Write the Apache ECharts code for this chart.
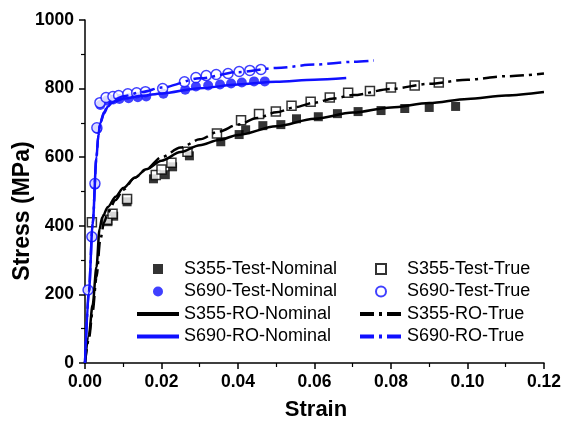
<!DOCTYPE html>
<html>
<head>
<meta charset="utf-8">
<script src="https://cdn.jsdelivr.net/npm/echarts@6/dist/echarts.min.js"></script>
<style>
  html, body { margin: 0; padding: 0; background: #fff; }
  #chart { width: 564px; height: 425px; }
</style>
</head>
<body>
<div id="chart"></div>
<script>
// S355 test points
var s355NomX = [0.006, 0.0075, 0.011, 0.0179, 0.021, 0.0229, 0.0273, 0.0355, 0.0403, 0.042, 0.0465, 0.0512, 0.0553, 0.061, 0.066, 0.0714, 0.0774, 0.0836, 0.090, 0.0969];
var s355NomY = [412, 428, 470, 537, 549, 572, 604, 645, 666, 680, 692, 695, 712, 718, 727, 733, 736, 742, 745, 748];
var s355TrueX = [0.0018, 0.0058, 0.0072, 0.011, 0.0185, 0.020, 0.0226, 0.0268, 0.0345, 0.0408, 0.0455, 0.0499, 0.054, 0.059, 0.064, 0.0688, 0.0745, 0.080, 0.0862, 0.0925];
var s355TrueY = [410, 418, 435, 478, 548, 564, 584, 616, 669, 708, 726, 733, 750, 762, 774, 788, 793, 803, 809, 818];

// S690 test points
var s690NomX = [0.0008, 0.0018, 0.0026, 0.0032, 0.004, 0.0056, 0.0074, 0.009, 0.0114, 0.0138, 0.016, 0.0205, 0.0262, 0.029, 0.0322, 0.0353, 0.0382, 0.041, 0.0442, 0.047];
var s690NomY = [213, 367, 520, 682, 752, 765, 768, 770, 772, 775, 777, 785, 797, 806, 809, 812, 815, 818, 821, 821];
var s690TrueX = [0.0008, 0.0018, 0.0026, 0.0031, 0.0039, 0.0055, 0.0073, 0.0088, 0.0112, 0.0135, 0.0158, 0.0203, 0.026, 0.029, 0.0317, 0.0343, 0.0374, 0.0403, 0.0431, 0.046];
var s690TrueY = [213, 368, 523, 686, 759, 774, 777, 780, 785, 788, 791, 800, 820, 832, 838, 841, 844, 850, 853, 856];

// Ramberg-Osgood curves
var s355RoNomX = [0, 0.001, 0.002, 0.003, 0.0038, 0.0045, 0.006, 0.008, 0.01, 0.013, 0.016, 0.02, 0.025, 0.03, 0.035, 0.04, 0.05, 0.06, 0.07, 0.08, 0.09, 0.10, 0.11, 0.12];
var s355RoNomY = [0, 80, 170, 280, 390, 425, 455, 485, 510, 540, 565, 590, 615, 635, 650, 665, 690, 712, 730, 745, 758, 770, 780, 790];
var s355RoTrueX = [0, 0.001, 0.002, 0.003, 0.004, 0.005, 0.006, 0.008, 0.01, 0.013, 0.016, 0.02, 0.025, 0.03, 0.035, 0.04, 0.045, 0.05, 0.055, 0.06, 0.065, 0.07, 0.08, 0.09, 0.10, 0.11, 0.12];
var s355RoTrueY = [0, 70, 150, 250, 360, 410, 440, 475, 505, 540, 565, 600, 628, 652, 675, 695, 714, 731, 746, 759, 771, 781, 799, 814, 826, 836, 844];

var s690RoNomX = [0, 0.001, 0.002, 0.003, 0.0035, 0.004, 0.005, 0.006, 0.007, 0.008, 0.01, 0.015, 0.02, 0.03, 0.04, 0.05, 0.06, 0.0683];
var s690RoNomY = [0, 205, 405, 600, 665, 700, 728, 748, 758, 764, 771, 779, 786, 801, 812, 820, 826, 831];
var s690RoTrueX = [0, 0.001, 0.002, 0.003, 0.0035, 0.004, 0.005, 0.006, 0.007, 0.008, 0.01, 0.015, 0.02, 0.03, 0.04, 0.05, 0.06, 0.07, 0.0755];
var s690RoTrueY = [0, 205, 405, 600, 665, 702, 732, 752, 763, 770, 778, 790, 803, 830, 848, 860, 870, 878, 882];

var BLUE = '#1010ff';
var FONT = 'Liberation Sans, Arial, sans-serif';
var dashDot = [14, 5, 3, 5];
var SQUARE = 'path://M0,0L10,0L10,10L0,10Z';

function pairs(xs, ys) {
  return xs.map(function (x, i) { return [x, ys[i]]; });
}

function scatter(name, xs, ys, symbol, fill, stroke) {
  return {
    name: name, type: 'scatter', data: pairs(xs, ys),
    symbol: symbol, symbolSize: symbol === 'rect' ? 9 : 10,
    itemStyle: { color: fill, borderColor: stroke, borderWidth: fill === '#fff' ? 1.5 : 0 },
    z: 3
  };
}

function curve(name, xs, ys, color, type) {
  return {
    name: name, type: 'line', data: pairs(xs, ys),
    symbol: 'none', smooth: 0.3, smoothMonotone: 'x',
    lineStyle: { color: color, width: 2.5, type: type },
    itemStyle: { color: color },
    z: 4
  };
}

// legend entries: scatter ones get a proper square, line ones hide the dot
function sq(name) { return { name: name, icon: SQUARE }; }
function ln(name) { return { name: name, itemStyle: { opacity: 0 }, lineStyle: { width: 4 } }; }

var chart = echarts.init(document.getElementById('chart'));

var legendBase = {
  orient: 'vertical', top: 260, padding: 0,
  itemWidth: 42, itemHeight: 10, itemGap: 4.5, symbolKeepAspect: true,
  textStyle: { fontSize: 18, color: '#000', fontFamily: FONT }
};

var tickLabel = { fontSize: 17.5, fontWeight: 'bold', color: '#000', fontFamily: FONT };

chart.setOption({
  animation: false,
  backgroundColor: '#fff',
  grid: { left: 85, right: 17, top: 20, bottom: 62 },
  legend: [
    Object.assign({}, legendBase, { left: 135,
      data: [sq('S355-Test-Nominal'), 'S690-Test-Nominal', ln('S355-RO-Nominal'), ln('S690-RO-Nominal')] }),
    Object.assign({}, legendBase, { left: 358,
      data: [sq('S355-Test-True'), 'S690-Test-True', ln('S355-RO-True'), ln('S690-RO-True')] })
  ],
  graphic: [
    { type: 'text', x: 23, y: 211, rotation: Math.PI / 2,
      style: { text: 'Stress (MPa)', align: 'center', verticalAlign: 'middle',
        font: 'bold 23px ' + FONT, fill: '#000' } },
    { type: 'text', x: 316, y: 410,
      style: { text: 'Strain', align: 'center', verticalAlign: 'middle',
        font: 'bold 22px ' + FONT, fill: '#000' } }
  ],
  xAxis: {
    type: 'value', min: 0, max: 0.12, interval: 0.02,
    axisLine: { lineStyle: { color: '#000', width: 1.5 } },
    axisTick: { length: 6, lineStyle: { color: '#000', width: 1.5 } },
    minorTick: { show: true, splitNumber: 2, length: 4, lineStyle: { color: '#000', width: 1.2 } },
    splitLine: { show: false },
    axisLabel: Object.assign({ margin: 10, formatter: function (v) { return v.toFixed(2); } }, tickLabel)
  },
  yAxis: {
    type: 'value', min: 0, max: 1000, interval: 200,
    axisLine: { show: true, lineStyle: { color: '#000', width: 1.5 } },
    axisTick: { show: true, length: 6, lineStyle: { color: '#000', width: 1.5 } },
    minorTick: { show: true, splitNumber: 2, length: 4, lineStyle: { color: '#000', width: 1.2 } },
    splitLine: { show: false },
    axisLabel: Object.assign({ margin: 11, formatter: function (v) { return String(v); } }, tickLabel)
  },
  series: [
    scatter('S355-Test-Nominal', s355NomX, s355NomY, 'rect', '#000', '#000'),
    scatter('S690-Test-Nominal', s690NomX, s690NomY, 'circle', BLUE, BLUE),
    curve('S355-RO-Nominal', s355RoNomX, s355RoNomY, '#000', 'solid'),
    curve('S690-RO-Nominal', s690RoNomX, s690RoNomY, BLUE, 'solid'),
    scatter('S355-Test-True', s355TrueX, s355TrueY, 'rect', '#fff', '#000'),
    scatter('S690-Test-True', s690TrueX, s690TrueY, 'circle', '#fff', BLUE),
    curve('S355-RO-True', s355RoTrueX, s355RoTrueY, '#000', dashDot),
    curve('S690-RO-True', s690RoTrueX, s690RoTrueY, BLUE, dashDot)
  ]
});
</script>
</body>
</html>
